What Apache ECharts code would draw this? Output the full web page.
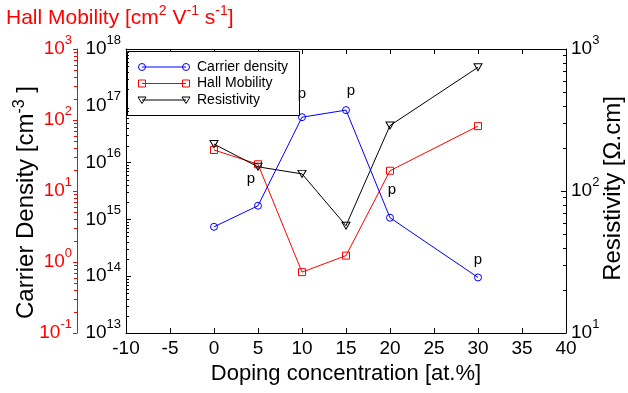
<!DOCTYPE html>
<html>
<head>
<meta charset="utf-8">
<script src="https://cdn.jsdelivr.net/npm/echarts@6/dist/echarts.min.js"></script>
<style>
  html, body { margin: 0; padding: 0; background: #fff; }
  #chart { width: 628px; height: 393px; }
</style>
</head>
<body>
<div id="chart"></div>
<script>
// Doping series: carrier density, Hall mobility and resistivity versus doping level
const dopingLevels   = [0, 5, 10, 15, 20, 30];
const carrierDensity = [7.4e14, 1.74e15, 6.3e16, 8.4e16, 1.07e15, 9.5e13];
const hallMobility   = [37.8, 23.8, 0.72, 1.23, 19.3, 82];
const resistivity    = [214, 148, 132, 57, 289, 743];
const carrierType    = ['', 'p', 'p', 'p', 'p', 'p'];

// Axis ranges
const xRange           = [-10, 40];
const xStep            = 5;
const carrierRange     = [1e13, 1e18];
const mobilityRange    = [0.1, 1000];
const resistivityRange = [10, 1000];

// Texts
const seriesNames = ['Carrier density', 'Hall Mobility', 'Resistivity'];
const xTitle = 'Doping concentration [at.%]';

// Placement of the conduction-type labels relative to their points
const typeLabelOffset = [[0, 0], [-7, -27], [0, -23], [5, -19], [2, -28], [0, -18]];

const FONT = '"Liberation Sans", Arial, Helvetica, sans-serif';
const BLUE = '#0000ff', RED = '#ff0000', BLACK = '#000000';

function powerLabel(v) {
  const e = Math.round(Math.log10(v));
  return '{b|10}{s|' + e + '}';
}
function tickRich(color) {
  return {
    b: { fontSize: 19, fontFamily: FONT, color: color, lineHeight: 20 },
    s: { fontSize: 13, fontFamily: FONT, color: color, lineHeight: 14, padding: [0, 0, 18, 0] }
  };
}
function titleRich(color, size) {
  return {
    t: { fontSize: size, fontFamily: FONT, fontWeight: 'normal', color: color, lineHeight: 24 },
    s: { fontSize: Math.round(size * 0.68), fontFamily: FONT, fontWeight: 'normal', color: color, lineHeight: 14, padding: [0, 0, 13, 0] }
  };
}

function logAxis(range, splits, color, extra) {
  return Object.assign({
    type: 'log',
    logBase: 10,
    min: range[0],
    max: range[1],
    splitNumber: splits,
    axisLine: { show: true, onZero: false, lineStyle: { color: color, width: 1 } },
    axisTick: { show: true, inside: true, length: 5, lineStyle: { color: color, width: 1 } },
    axisLabel: { show: true, formatter: powerLabel, margin: 5, rich: tickRich(color) },
    splitLine: { show: false },
    minorTick: { show: false },
    nameMoveOverlap: false
  }, extra);
}

const option = {
  animation: false,
  backgroundColor: '#ffffff',
  textStyle: { fontFamily: FONT },
  title: {
    text: '{t|Hall Mobility [cm}{s|2}{t| V}{s|-1}{t| s}{s|-1}{t|]}',
    left: 6,
    top: 6,
    padding: 0,
    textStyle: { fontWeight: 'normal', rich: titleRich(RED, 21) }
  },
  grid: { left: 126, right: 62, top: 49, bottom: 60, containLabel: false, outerBoundsMode: 'none' },
  xAxis: [
    {
      type: 'value', position: 'bottom',
      min: xRange[0], max: xRange[1], interval: xStep,
      axisLine: { show: true, onZero: false, lineStyle: { color: BLACK, width: 1 } },
      axisTick: { show: true, inside: true, length: 5, lineStyle: { color: BLACK } },
      axisLabel: { show: true, color: BLACK, fontSize: 19, fontFamily: FONT, margin: 6 },
      splitLine: { show: false },
      name: xTitle, nameLocation: 'middle', nameGap: 30, nameMoveOverlap: false,
      nameTextStyle: { fontSize: 22, color: BLACK, fontFamily: FONT }
    },
    {
      type: 'value', position: 'top',
      min: xRange[0], max: xRange[1], interval: xStep,
      axisLine: { show: true, onZero: false, lineStyle: { color: BLACK, width: 1 } },
      axisTick: { show: true, inside: true, length: 5, lineStyle: { color: BLACK } },
      axisLabel: { show: false },
      splitLine: { show: false }
    }
  ],
  yAxis: [
    logAxis(carrierRange, 5, BLACK, {
      position: 'left',
      name: '{t|Carrier Density [cm}{s|-3}{t| ]}',
      nameLocation: 'middle', nameRotate: 90, nameGap: 88,
      nameTextStyle: { rich: titleRich(BLACK, 24), padding: [0, 23, 0, 0] }
    }),
    logAxis(mobilityRange, 4, RED, {
      position: 'left', offset: 49,
      axisTick: { show: true, inside: false, length: 4, lineStyle: { color: RED, width: 1 } }
    }),
    logAxis(resistivityRange, 2, BLACK, {
      position: 'right',
      name: 'Resistivity [\u03A9.cm]',
      nameLocation: 'middle', nameRotate: 90, nameGap: 35,
      nameTextStyle: { fontSize: 24, lineHeight: 24, color: BLACK, fontFamily: FONT, padding: [0, 0, 0, 5] }
    })
  ],
  series: [
    {
      name: seriesNames[0], type: 'line', xAxisIndex: 0, yAxisIndex: 0, z: 3,
      data: dopingLevels.map((x, i) => ({
        value: [x, carrierDensity[i]],
        label: { show: carrierType[i] !== '', formatter: carrierType[i] || ' ', offset: typeLabelOffset[i] }
      })),
      symbol: 'circle', symbolSize: 7,
      lineStyle: { color: BLUE, width: 1 },
      itemStyle: { color: 'rgba(255,255,255,0)', borderColor: BLUE, borderWidth: 1 },
      label: { position: 'inside', fontSize: 15, color: BLACK, fontFamily: FONT, textBorderWidth: 0 },
      emphasis: { disabled: true }
    },
    {
      name: seriesNames[1], type: 'line', xAxisIndex: 0, yAxisIndex: 1, z: 2,
      data: dopingLevels.map((x, i) => [x, hallMobility[i]]),
      symbol: 'rect', symbolSize: 7,
      lineStyle: { color: RED, width: 1 },
      itemStyle: { color: 'rgba(255,255,255,0)', borderColor: RED, borderWidth: 1 },
      emphasis: { disabled: true }
    },
    {
      name: seriesNames[2], type: 'line', xAxisIndex: 0, yAxisIndex: 2, z: 2,
      data: dopingLevels.map((x, i) => [x, resistivity[i]]),
      symbol: 'triangle', symbolRotate: 180, symbolSize: [8, 7],
      lineStyle: { color: BLACK, width: 1 },
      itemStyle: { color: 'rgba(255,255,255,0)', borderColor: BLACK, borderWidth: 1 },
      emphasis: { disabled: true }
    }
  ]
};

const chart = echarts.init(document.getElementById('chart'), null, { renderer: 'canvas' });
chart.setOption(option);

// Logarithmic minor ticks (2..9 within each decade), placed through the axis scales
function decadeMinors(range) {
  const out = [];
  const e0 = Math.round(Math.log10(range[0]));
  const e1 = Math.round(Math.log10(range[1]));
  for (let e = e0; e < e1; e++) {
    for (let k = 2; k <= 9; k++) out.push(k * Math.pow(10, e));
  }
  return out;
}
const leftX  = chart.convertToPixel({ xAxisIndex: 0 }, xRange[0]);
const rightX = chart.convertToPixel({ xAxisIndex: 0 }, xRange[1]);
const redX   = leftX - 49;
const marks = [];
function addMinor(yAxisIndex, range, x, dir, color) {
  decadeMinors(range).forEach(v => {
    const y = Math.round(chart.convertToPixel({ yAxisIndex: yAxisIndex }, v)) + 0.5;
    marks.push({
      type: 'line', silent: true, z: 5,
      shape: { x1: x, y1: y, x2: x + dir * 3, y2: y },
      style: { stroke: color, lineWidth: 1 }
    });
  });
}
addMinor(0, carrierRange, leftX, 1, BLACK);
addMinor(1, mobilityRange, redX, -1, RED);
addMinor(2, resistivityRange, rightX, -1, BLACK);

// Legend box: line with a marker at each end, followed by the series name
const legendBox = { x: 127.5, y: 51.5, w: 172, h: 64 };
const legendRows = [
  { color: BLUE, symbol: 'circle' },
  { color: RED, symbol: 'rect' },
  { color: BLACK, symbol: 'triangleDown' }
];
const legendEls = [{
  type: 'rect', z: 1, silent: true,
  shape: { x: legendBox.x, y: legendBox.y, width: legendBox.w, height: legendBox.h },
  style: { fill: '#ffffff', stroke: BLACK, lineWidth: 1 }
}];
function legendMarker(kind, cx, cy, color) {
  const st = { fill: 'none', stroke: color, lineWidth: 1 };
  if (kind === 'circle') return { type: 'circle', z: 2, silent: true, shape: { cx: cx, cy: cy, r: 3.5 }, style: st };
  if (kind === 'rect') return { type: 'rect', z: 2, silent: true, shape: { x: cx - 3.5, y: cy - 3.5, width: 7, height: 7 }, style: st };
  return { type: 'polygon', z: 2, silent: true, shape: { points: [[cx - 4, cy - 3], [cx + 4, cy - 3], [cx, cy + 3.5]] }, style: st };
}
legendRows.forEach((row, i) => {
  const cy = 67 + i * 16.5;
  const x1 = 142, x2 = 186;
  legendEls.push({
    type: 'line', z: 2, silent: true,
    shape: { x1: x1, y1: cy, x2: x2, y2: cy },
    style: { stroke: row.color, lineWidth: 1 }
  });
  legendEls.push(legendMarker(row.symbol, x1, cy, row.color));
  legendEls.push(legendMarker(row.symbol, x2, cy, row.color));
  legendEls.push({
    type: 'text', z: 2, silent: true,
    x: 197, y: cy,
    style: { text: seriesNames[i], fill: BLACK, font: '14px ' + FONT, verticalAlign: 'middle', align: 'left' }
  });
});

chart.setOption({ graphic: { elements: legendEls.concat(marks) } });
</script>
</body>
</html>
